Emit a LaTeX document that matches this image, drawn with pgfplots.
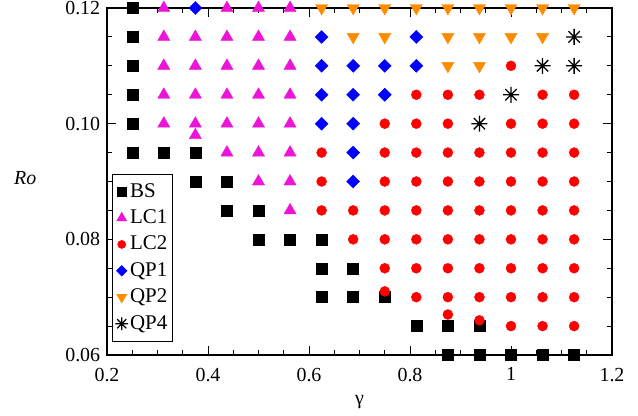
\documentclass[border=0pt]{standalone}
\usepackage{fontspec}
\setmainfont{Liberation Serif}
\usepackage{pgfplots}
\pgfplotsset{compat=1.18}
\definecolor{lcone}{RGB}{235,20,215}
\definecolor{lctwo}{RGB}{255,0,0}
\definecolor{qpone}{RGB}{0,0,255}
\definecolor{qptwo}{RGB}{255,140,0}
\pgfdeclareplotmark{ast8}{%
  \pgfpathmoveto{\pgfqpoint{0pt}{\pgfplotmarksize}}\pgfpathlineto{\pgfqpoint{0pt}{-\pgfplotmarksize}}%
  \pgfpathmoveto{\pgfqpoint{\pgfplotmarksize}{0pt}}\pgfpathlineto{\pgfqpoint{-\pgfplotmarksize}{0pt}}%
  \pgfpathmoveto{\pgfqpoint{0.7071\pgfplotmarksize}{0.7071\pgfplotmarksize}}\pgfpathlineto{\pgfqpoint{-0.7071\pgfplotmarksize}{-0.7071\pgfplotmarksize}}%
  \pgfpathmoveto{\pgfqpoint{-0.7071\pgfplotmarksize}{0.7071\pgfplotmarksize}}\pgfpathlineto{\pgfqpoint{0.7071\pgfplotmarksize}{-0.7071\pgfplotmarksize}}%
  \pgfusepathqstroke}
\pgfplotsset{lg/.style={legend image code/.code={\draw[mark repeat=2,mark phase=2,#1,/tikz/every mark/.append style={scale=0.8}] plot coordinates {(0bp,0bp)(9bp,0bp)(20bp,0bp)};}}}
\begin{document}
\fontsize{20}{24}\selectfont
\begin{tikzpicture}
\useasboundingbox (-107bp,-61bp) rectangle (531bp,355bp);
\begin{axis}[
  scale only axis, width=505bp, height=347bp,
  xmin=0.2, xmax=1.2, ymin=0.06, ymax=0.12,
  xtick={0.2,0.4,0.6,0.8,1,1.2}, ytick={0.06,0.08,0.1,0.12},
  minor x tick num=3, minor y tick num=3,
  tick align=inside, major tick length=9bp, minor tick length=5bp,
  axis line style={line width=1.2bp},
  every tick/.style={black, line width=1bp},
  clip=false,
  /pgf/number format/assume math mode=true,
  yticklabel style={/pgf/number format/.cd, fixed, fixed zerofill, precision=2},
  xticklabel style={yshift=-6bp},
  scaled y ticks=false, scaled x ticks=false,
  xlabel={γ}, ylabel={\textit{Ro}},
  xlabel style={yshift=0bp},
  ylabel style={rotate=-90, at={(axis description cs:-0.162,0.51)}, anchor=center},
  legend style={at={(axis description cs:0.01,0.522)}, anchor=north west, draw=black, line width=0.6bp, inner xsep=3bp, inner ysep=7bp, row sep=5.6bp, font=\fontsize{21}{25}\selectfont},
  legend cell align=left,
]
% BS
\addplot[only marks, lg, mark=square*, mark size=5.5bp, black] coordinates {
(0.25,0.12)(0.25,0.115)(0.25,0.11)(0.25,0.105)(0.25,0.10)(0.25,0.095)
(0.3125,0.095)(0.375,0.095)(0.375,0.09)(0.4375,0.09)(0.4375,0.085)(0.5,0.085)
(0.5,0.08)(0.5625,0.08)(0.625,0.08)(0.625,0.075)(0.6875,0.075)
(0.625,0.07)(0.6875,0.07)(0.75,0.07)
(0.8125,0.065)(0.875,0.065)(0.9375,0.065)
(0.875,0.06)(0.9375,0.06)(1.0,0.06)(1.0625,0.06)(1.125,0.06)};
\addlegendentry{BS}
% LC1
\addplot[only marks, lg, mark=triangle*, mark size=7bp, color=lcone] coordinates {
(0.3125,0.12)(0.4375,0.12)(0.5,0.12)(0.5625,0.12)
(0.3125,0.115)(0.375,0.115)(0.4375,0.115)(0.5,0.115)(0.5625,0.115)
(0.3125,0.11)(0.375,0.11)(0.4375,0.11)(0.5,0.11)(0.5625,0.11)
(0.3125,0.105)(0.375,0.105)(0.4375,0.105)(0.5,0.105)(0.5625,0.105)
(0.3125,0.10)(0.375,0.10)(0.4375,0.10)(0.5,0.10)(0.5625,0.10)
(0.375,0.098)
(0.4375,0.095)(0.5,0.095)(0.5625,0.095)
(0.5,0.09)(0.5625,0.09)
(0.5625,0.085)};
\addlegendentry{LC1}
% LC2
\addplot[only marks, lg, mark=*, mark size=5bp, color=lctwo] coordinates {
(1.0,0.11)
(0.8125,0.105)(0.875,0.105)(0.9375,0.105)(1.0625,0.105)(1.125,0.105)
(0.75,0.10)(0.8125,0.10)(0.875,0.10)(1.0,0.10)(1.0625,0.10)(1.125,0.10)
(0.625,0.095)(0.75,0.095)(0.8125,0.095)(0.875,0.095)(0.9375,0.095)(1.0,0.095)(1.0625,0.095)(1.125,0.095)
(0.625,0.09)(0.75,0.09)(0.8125,0.09)(0.875,0.09)(0.9375,0.09)(1.0,0.09)(1.0625,0.09)(1.125,0.09)
(0.625,0.085)(0.6875,0.085)(0.75,0.085)(0.8125,0.085)(0.875,0.085)(0.9375,0.085)(1.0,0.085)(1.0625,0.085)(1.125,0.085)
(0.6875,0.08)(0.75,0.08)(0.8125,0.08)(0.875,0.08)(0.9375,0.08)(1.0,0.08)(1.0625,0.08)(1.125,0.08)
(0.75,0.075)(0.8125,0.075)(0.875,0.075)(0.9375,0.075)(1.0,0.075)(1.0625,0.075)(1.125,0.075)
(0.75,0.071)(0.8125,0.07)(0.875,0.07)(0.9375,0.07)(1.0,0.07)(1.0625,0.07)(1.125,0.07)
(0.875,0.067)(0.9375,0.066)(1.0,0.065)(1.0625,0.065)(1.125,0.065)};
\addlegendentry{LC2}
% QP1
\addplot[only marks, lg, mark=square*, mark size=4.6bp, mark options={rotate=45}, color=qpone] coordinates {
(0.375,0.12)
(0.625,0.115)(0.8125,0.115)
(0.625,0.11)(0.6875,0.11)(0.75,0.11)(0.8125,0.11)
(0.625,0.105)(0.6875,0.105)(0.75,0.105)
(0.625,0.10)(0.6875,0.10)
(0.6875,0.095)(0.6875,0.09)};
\addlegendentry{QP1}
% QP2
\addplot[only marks, lg, mark=triangle*, mark size=7bp, mark options={rotate=180}, color=qptwo] coordinates {
(0.625,0.12)(0.6875,0.12)(0.75,0.12)(0.8125,0.12)(0.875,0.12)(0.9375,0.12)(1.0,0.12)(1.0625,0.12)(1.125,0.12)
(0.6875,0.115)(0.75,0.115)(0.875,0.115)(0.9375,0.115)(1.0,0.115)(1.0625,0.115)
(0.875,0.11)(0.9375,0.11)};
\addlegendentry{QP2}
% QP4
\addplot[only marks, lg, mark=ast8, mark size=8bp, mark options={line width=1.3bp}, black] coordinates {
(1.125,0.115)(1.0625,0.11)(1.125,0.11)(1.0,0.105)(0.9375,0.10)};
\addlegendentry{QP4}
\end{axis}
\end{tikzpicture}
\end{document}
